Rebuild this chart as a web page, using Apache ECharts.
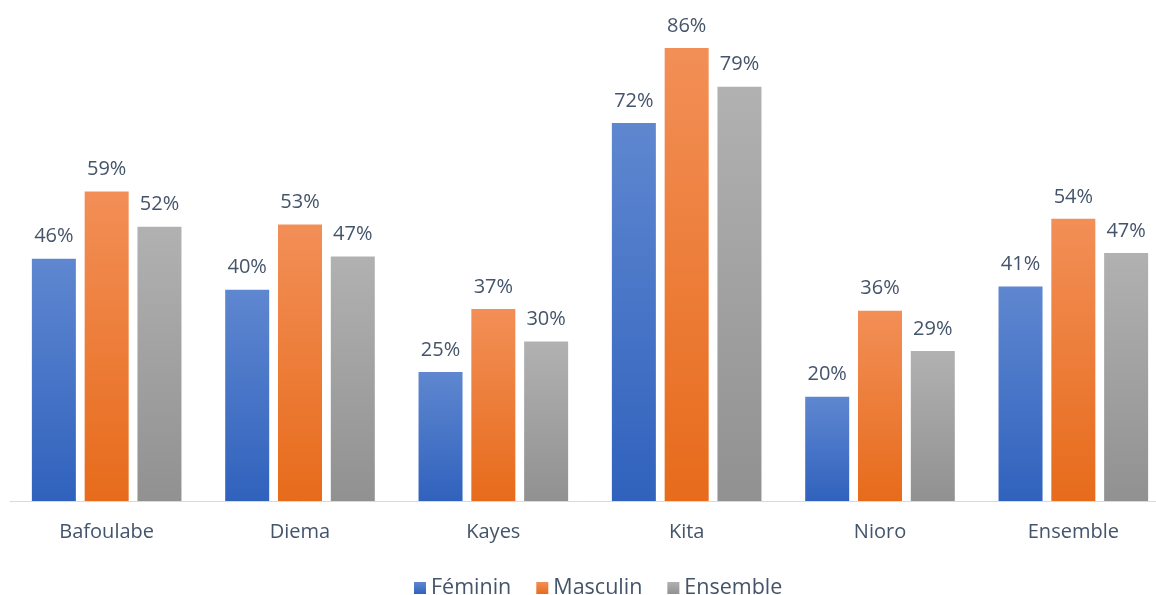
<!DOCTYPE html>
<html><head><meta charset="utf-8">
<script src="https://cdn.jsdelivr.net/npm/echarts@6/dist/echarts.min.js"></script>
<style>html,body{margin:0;padding:0;background:#fff}#c{width:1156px;height:595px}</style>
</head><body><div id="c"></div>
<script>
const categories = ['Bafoulabe','Diema','Kayes','Kita','Nioro','Ensemble'];
const feminin = [46.2, 40.3, 24.6, 72.1, 19.9, 40.9];
const masculin = [59.0, 52.7, 36.6, 86.4, 36.3, 53.8];
const ensemble = [52.3, 46.6, 30.4, 79.0, 28.6, 47.3];
const seriesNames = ['Féminin','Masculin','Ensemble'];

const font = '"Open Sans", "Liberation Sans", sans-serif';
const textColor = '#44546a';
function grad(top, bottom){
  return new echarts.graphic.LinearGradient(0,0,0,1,[{offset:0,color:top},{offset:1,color:bottom}]);
}
const colors = [grad('#5f87d0','#3062bd'), grad('#f28f57','#e76b1b'), grad('#b1b1b1','#919191')];
const dataSets = [feminin, masculin, ensemble];

const chart = echarts.init(document.getElementById('c'));
chart.setOption({
  animation:false,
  grid:{left:10, right:-14, top:29, bottom:94, outerBoundsMode:'none', containLabel:false},
  legend:{
    top:572, left:409, itemWidth:12, itemHeight:12, itemGap:25,
    icon:'rect',
    textStyle:{color:textColor, fontSize:21.5, fontFamily:font},
    data:seriesNames
  },
  xAxis:{
    type:'category', data:categories,
    axisLine:{lineStyle:{color:'#d9d9d9', width:1}},
    axisTick:{show:false},
    axisLabel:{color:textColor, fontSize:20, fontFamily:font, margin:21}
  },
  yAxis:{type:'value', min:0, max:90, show:false, splitLine:{show:false}},
  series: seriesNames.map((n,i)=>({
    name:n, type:'bar', data:dataSets[i], barWidth:44, barGap:'20%',
    itemStyle:{color:colors[i], borderWidth:0},
    label:{show:true, position:'top', distance:12, color:textColor, fontSize:20, fontFamily:font,
      formatter:p=>Math.round(p.value)+'%'}
  }))
});
</script></body></html>
